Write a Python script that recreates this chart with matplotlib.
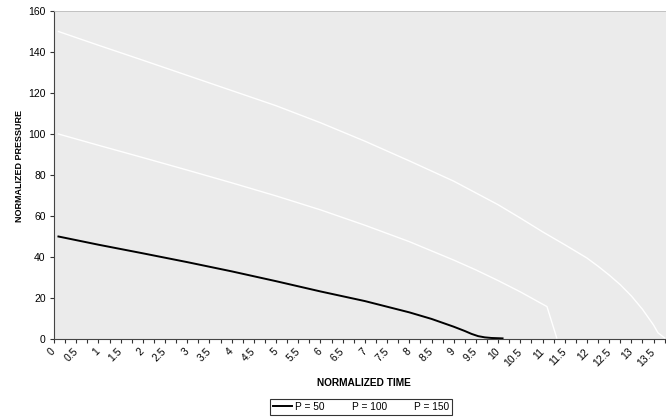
import matplotlib.pyplot as plt
import numpy as np
from matplotlib.ticker import MultipleLocator, FuncFormatter

plt.rcParams['font.family'] = ['Liberation Sans', 'DejaVu Sans']
plt.rcParams['font.size'] = 7

# Data (normalized time, normalized pressure)
t_p50 = [0.1, 1, 2, 3, 4, 5, 6, 7, 8, 8.5, 9, 9.25, 9.4, 9.55, 9.7, 9.85, 10.1]
p_p50 = [50, 46, 41.8, 37.5, 33, 28.2, 23.2, 18.5, 13, 9.8, 6, 3.9, 2.5, 1.4, 0.8, 0.5, 0.3]

t_p100 = [0.1, 1, 2, 3, 4, 5, 6, 7, 8, 9, 9.5, 10, 10.5, 11, 11.1, 11.32]
p_p100 = [100, 94.5, 88.5, 82.4, 76.2, 69.8, 63, 55.5, 47.5, 38.5, 33.7, 28.5, 23, 17, 15.8, 0.5]

t_p150 = [0.1, 1, 2, 3, 4, 5, 6, 7, 8, 9, 10, 10.5, 11, 11.5, 12, 12.25, 12.5,
          12.75, 13, 13.25, 13.5, 13.6, 13.75]
p_p150 = [150, 143.3, 136, 128.6, 121.2, 113.8, 105.5, 96.5, 86.9, 77, 65.5, 59,
          52.3, 46, 39.5, 35.5, 31.2, 26.5, 21, 14.5, 6.8, 3, 0.5]

fig = plt.figure(figsize=(6.66, 4.17), dpi=100)
ax = fig.add_axes([54 / 666, 1 - 339 / 417, 1 - 54 / 666, (339 - 11) / 417])
ax.set_facecolor('#ebebeb')

ax.plot(t_p50, p_p50, color='black', linewidth=1.4, label='P = 50')
ax.plot(t_p100, p_p100, color='white', linewidth=1.0, label='P = 100')
ax.plot(t_p150, p_p150, color='white', linewidth=1.0, label='P = 150')

ax.set_xlim(0, 13.78)
ax.set_ylim(0, 160)
ax.yaxis.set_major_locator(MultipleLocator(20))
ax.xaxis.set_major_locator(MultipleLocator(0.5))
ax.xaxis.set_minor_locator(MultipleLocator(0.25))
ax.xaxis.set_major_formatter(FuncFormatter(lambda v, p: f'{v:g}'))

ax.tick_params(axis='both', direction='out', length=3, width=0.8, color='#333333',
               labelsize=7.5)
ax.tick_params(axis='x', which='minor', direction='out', length=3, width=0.8, color='#333333')
ax.tick_params(axis='y', pad=3)
ax.tick_params(axis='x', pad=5)
for lbl in ax.get_xticklabels():
    lbl.set_rotation(45)
    lbl.set_rotation_mode('anchor')
    lbl.set_ha('right')
    lbl.set_va('center')

ax.spines['left'].set_color('#444444')
ax.spines['bottom'].set_color('#444444')
ax.spines['top'].set_color('#bbbbbb')
ax.spines['top'].set_linewidth(0.6)
ax.spines['right'].set_visible(False)

fig.text(20 / 666, 1 - 166 / 417, 'NORMALIZED PRESSURE', rotation=90,
         ha='center', va='center', fontweight='bold', fontsize=6.5)
fig.text(364 / 666, 1 - 383 / 417, 'NORMALIZED TIME',
         ha='center', va='center', fontweight='bold', fontsize=7.3)

leg = fig.legend(loc='center', bbox_to_anchor=(361 / 666, 1 - 407 / 417), ncol=3,
                 fontsize=7.3, frameon=True, fancybox=False, handlelength=1.9,
                 columnspacing=0.45, handletextpad=0.3, borderpad=0.3, borderaxespad=0)
leg.get_frame().set_edgecolor('black')
leg.get_frame().set_linewidth(0.8)

fig.savefig('out.png', dpi=100)
